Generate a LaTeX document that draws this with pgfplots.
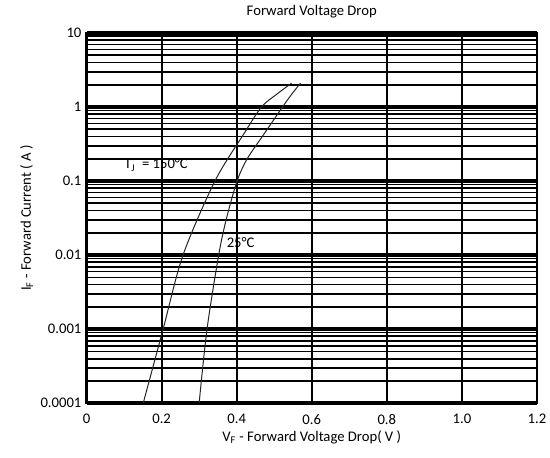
\documentclass[border=0pt]{standalone}
\usepackage{fontspec}
\setmainfont{Carlito}
\usepackage{pgfplots}
\pgfplotsset{compat=1.18}
\begin{document}
\fontsize{11}{13}\selectfont
\begin{tikzpicture}
\begin{axis}[
  scale only axis,
  width=337.9pt, height=277.7pt,
  xmin=0, xmax=1.2,
  ymode=log, ymin=1e-4, ymax=10,
  xtick={0,0.2,0.4,0.6,0.8,1.0,1.2},
  xticklabels={0,0.2,0.4,0.6,0.8,1.0,1.2},
  ytick={1e-4,1e-3,1e-2,1e-1,1,10},
  yticklabels={0.0001,0.001,0.01,0.1,1,10},
  minor ytick={2e-4,3e-4,4e-4,5e-4,6e-4,7e-4,8e-4,9e-4,
               2e-3,3e-3,4e-3,5e-3,6e-3,7e-3,8e-3,9e-3,
               2e-2,3e-2,4e-2,5e-2,6e-2,7e-2,8e-2,9e-2,
               0.2,0.3,0.4,0.5,0.6,0.7,0.8,0.9,
               2,3,4,5,6,7,8,9},
  major tick length=0pt, minor tick length=0pt,
  xticklabel style={yshift=-4.5pt},
  xmajorgrids, ymajorgrids, yminorgrids,
  major x grid style={black, line width=1.4pt},
  major y grid style={black, line width=2.6pt},
  minor y grid style={black, line width=1.35pt},
  axis line style={black, line width=1.6pt},
  title={Forward Voltage Drop},
  title style={yshift=1pt},
  xlabel={V\textsubscript{F} - Forward Voltage Drop( V )},
  ylabel={I\textsubscript{F} - Forward Current ( A )},
  xlabel style={yshift=3pt},
  ylabel style={yshift=-2pt},
]
% Tj = 150 C
\addplot[black!85, line width=0.75pt, smooth] coordinates {
  (0.151,1e-4) (0.204,1e-3) (0.257,1e-2) (0.342,0.1)
  (0.418,0.426) (0.466,1) (0.506,1.48) (0.546,2.1)
};
% Tj = 25 C
\addplot[black!85, line width=0.75pt, smooth] coordinates {
  (0.300,1e-4) (0.321,1e-3) (0.352,1e-2) (0.373,0.0316) (0.401,0.1)
  (0.428,0.2) (0.472,0.426) (0.522,1) (0.546,1.48) (0.570,2.1)
};
\node[anchor=west, inner sep=0pt] at (axis cs:0.100,0.165) {T\textsubscript{J}\ \ = 150°C};
\node[anchor=west, inner sep=0pt] at (axis cs:0.373,0.015) {25°C};
\coordinate (sw) at (rel axis cs:0,0);
\coordinate (ne) at (rel axis cs:1,1);
\end{axis}
\pgfresetboundingbox
\path ([shift={(-64.9pt,-40.5pt)}]sw) rectangle ([shift={(9.75pt,24.75pt)}]ne);
\end{tikzpicture}
\end{document}
